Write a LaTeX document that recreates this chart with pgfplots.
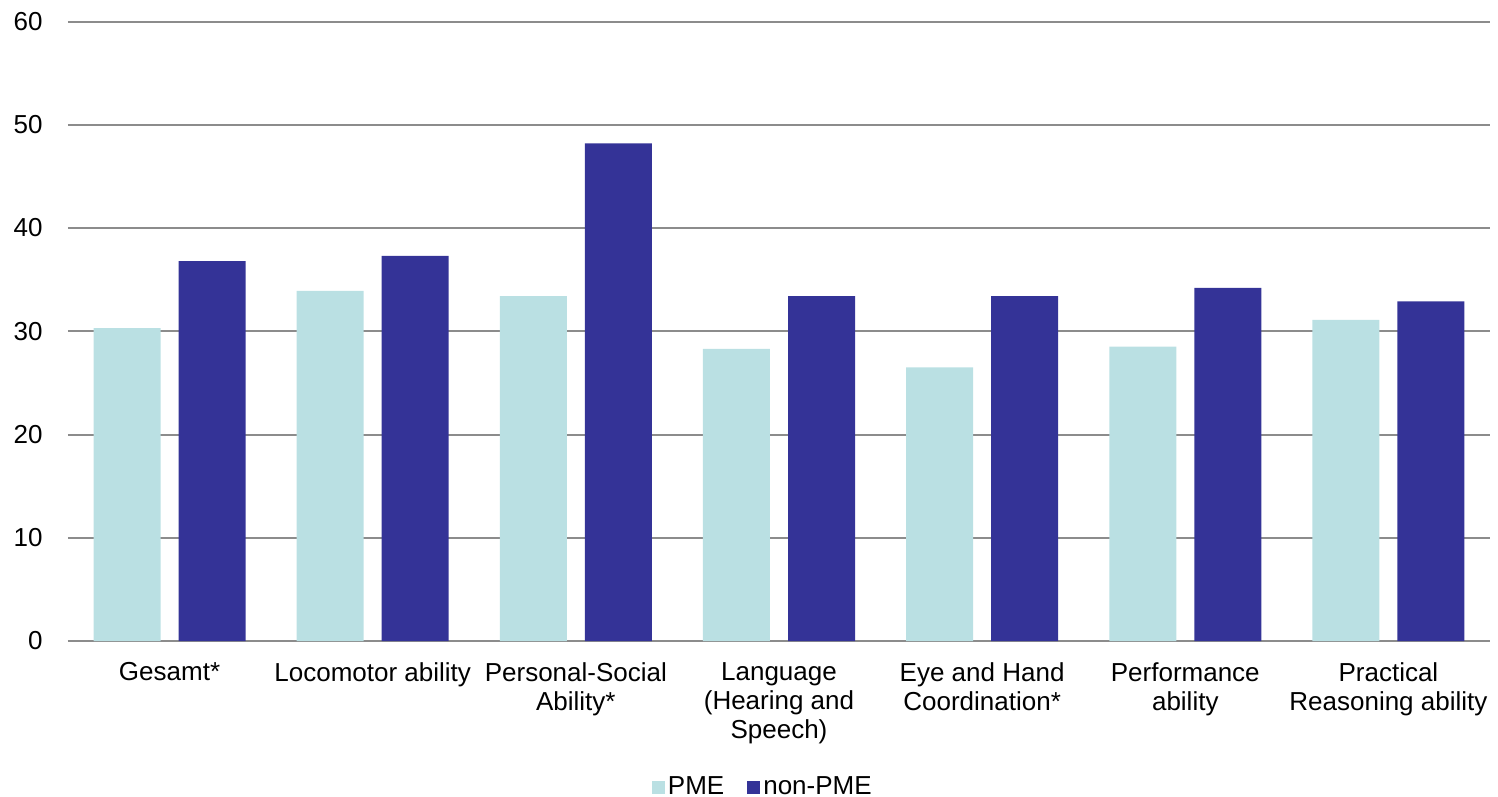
\documentclass[border=0pt]{standalone}
\usepackage{fontspec}
\setmainfont{Liberation Sans}
\usepackage{pgfplots}
\pgfplotsset{compat=1.18}

\definecolor{pme}{RGB}{186,224,227}
\definecolor{nonpme}{RGB}{52,51,151}
\definecolor{gridgray}{RGB}{140,140,140}

\begin{document}
\begin{tikzpicture}
\useasboundingbox (-34pt,-78pt) rectangle (715pt,320.5pt);
\begin{axis}[
  at={(0pt,0pt)}, anchor=south west,
  scale only axis,
  width=711pt, height=309.75pt,
  xmin=-0.5, xmax=6.5,
  ymin=0, ymax=60,
  ytick={0,10,...,60},
  xtick={0,...,6},
  xticklabels={
    Gesamt*,
    Locomotor ability,
    {Personal-Social\\Ability*},
    {Language\\(Hearing and\\Speech)},
    {Eye and Hand\\Coordination*},
    {Performance\\ability},
    {Practical\\Reasoning ability}},
  font=\fontsize{13}{14.5}\selectfont,
  /pgf/number format/assume math mode=true,
  major tick length=0pt,
  axis x line*=bottom,
  axis y line*=left,
  y axis line style={draw=none},
  x axis line style={draw=gridgray, line width=1.3pt},
  ymajorgrids,
  grid style={draw=gridgray, line width=1pt},
  yticklabel style={anchor=east, inner sep=0pt},
  yticklabel shift=12.5pt,
  xticklabel style={align=center, anchor=north, inner sep=0pt},
  xticklabel shift=10.5pt,
  legend columns=2,
  legend style={
    at={(0.489,0)}, anchor=center, yshift=-73pt,
    draw=none, fill=none, inner sep=0pt,
    font=\fontsize{13}{14.5}\selectfont,
    nodes={inner sep=1.5pt},
    /tikz/every even column/.append style={column sep=10pt}},
  legend cell align=left,
]
\addplot[ybar, bar width=33.5pt, bar shift=-21.25pt, fill=pme, draw=none,
  legend image code/.code={\fill[pme] (0pt,-3.25pt) rectangle (6.5pt,3.25pt);}]
  coordinates {(0,30.3) (1,33.9) (2,33.4) (3,28.3) (4,26.5) (5,28.5) (6,31.1)};
\addlegendentry{PME}
\addplot[ybar, bar width=33.5pt, bar shift=21.25pt, fill=nonpme, draw=none,
  legend image code/.code={\fill[nonpme] (0pt,-3.25pt) rectangle (6.5pt,3.25pt);}]
  coordinates {(0,36.8) (1,37.3) (2,48.2) (3,33.4) (4,33.4) (5,34.2) (6,32.9)};
\addlegendentry{non-PME}
\end{axis}
\end{tikzpicture}
\end{document}
